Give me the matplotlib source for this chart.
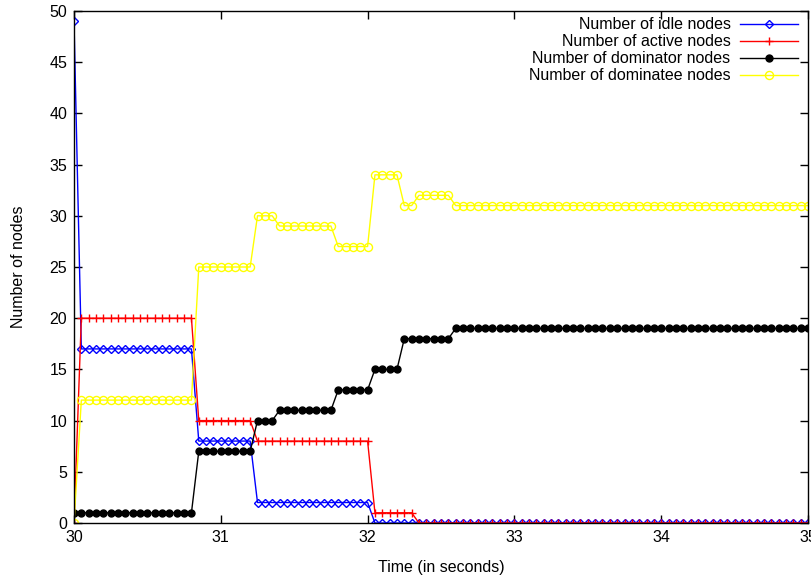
import numpy as np
import matplotlib
matplotlib.use("Agg")
import matplotlib.pyplot as plt

plt.rcParams["font.family"] = ["Liberation Sans", "DejaVu Sans"]
plt.rcParams["font.size"] = 11.5

# sampling every 0.05 s from 30 to 35
time = np.round(np.arange(30.0, 35.0001, 0.05), 2)

idle = [49] + [17] * 16 + [8] * 8 + [2] * 16 + [0] * 60
active = [0] + [20] * 16 + [10] * 8 + [8] * 16 + [1] * 6 + [0] * 54
dominator = ([1] * 17 + [7] * 8 + [10] * 3 + [11] * 8 + [13] * 5
             + [15] * 4 + [18] * 7 + [19] * 49)
dominatee = ([0] + [12] * 16 + [25] * 8 + [30] * 3 + [29] * 8 + [27] * 5
             + [34] * 4 + [31] * 2 + [32] * 5 + [31] * 49)

fig = plt.figure(figsize=(8.12, 5.75), dpi=100)
ax = fig.add_axes([74 / 812, 1 - 523 / 575, 734 / 812, 512 / 575])

ax.plot(time, idle, color="blue", lw=1, marker="D", ms=3.6,
        mfc="none", mew=1, label="Number of idle nodes")
ax.plot(time, active, color="red", lw=1, marker="+", ms=5.5,
        mew=1, label="Number of active nodes")
ax.plot(time, dominator, color="black", lw=1, marker="o", ms=5,
        label="Number of dominator nodes")
ax.plot(time, dominatee, color="yellow", lw=1, marker="o", ms=5.8,
        mfc="none", mew=1, label="Number of dominatee nodes")

ax.set_xlim(30, 35)
ax.set_ylim(0, 50)
ax.set_xticks(range(30, 36))
ax.set_yticks(range(0, 51, 5))
ax.tick_params(direction="in", top=True, right=True, length=6, width=1,
               labelsize=11.5, pad=5)
for s in ax.spines.values():
    s.set_linewidth(1)
ax.set_xlabel("Time (in seconds)", labelpad=11)
ax.set_ylabel("Number of nodes", labelpad=17)

leg = ax.legend(loc="upper right", bbox_to_anchor=(0.9946, 1.0),
                frameon=False, markerfirst=False,
                handlelength=3.6, handletextpad=0.6, borderaxespad=0.0,
                labelspacing=0.12, fontsize=11.5)
for t in leg.get_texts():
    t.set_ha("right")
leg._legend_box.align = "right"

fig.savefig("out.png", dpi=100)
